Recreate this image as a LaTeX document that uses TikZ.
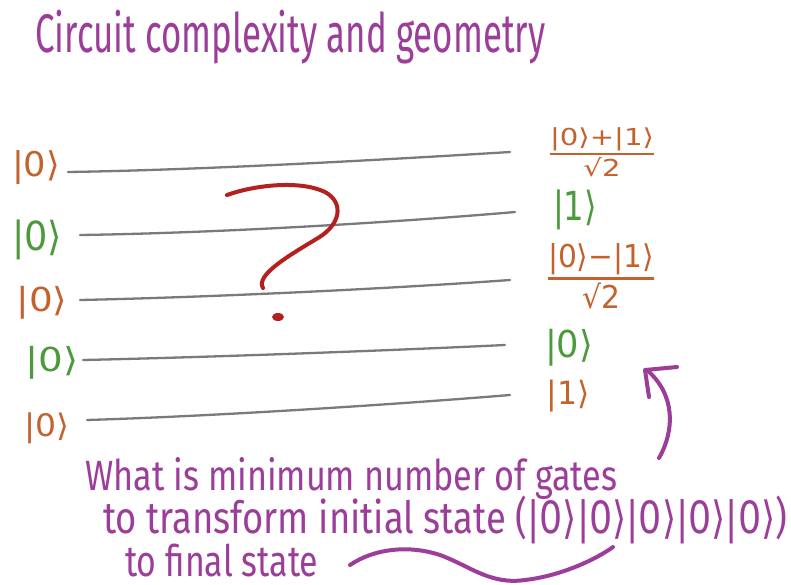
\documentclass[tikz,border=0pt]{standalone}
\usepackage{fontspec}
\usepackage{amsmath}
\setmainfont{Fira Sans}
\newfontfamily\ketfont{DejaVu Sans}
\usepackage{graphicx}
\definecolor{ink}{HTML}{9C3D9A}
\definecolor{orng}{HTML}{C4622D}
\definecolor{grn}{HTML}{4C9A3C}
\definecolor{qred}{HTML}{B3201E}
\definecolor{wire}{HTML}{7A7A7A}
\newcommand{\kt}[1]{\hbox{\ketfont |#1⟩}}
\newcommand{\kfrac}[1]{\genfrac{}{}{0.9pt}{}{\hbox{\ketfont |0⟩#1|1⟩}}{\hbox{\ketfont √2}}}
\begin{document}
\begin{tikzpicture}[x=1pt,y=-1pt,
  wireline/.style={draw=wire,line width=2.3pt,line cap=round},
  pen/.style={draw=ink,line width=4pt,line cap=round,line join=round},
  qpen/.style={draw=qred,line width=4pt,line cap=round},
  ketO/.style={text=orng,inner sep=0pt},
  ketG/.style={text=grn,inner sep=0pt},
  words/.style={text=ink,inner sep=0pt}]
\useasboundingbox (0,0) rectangle (791,585);
\fill[white] (0,0) rectangle (791,585);

% title
\node[words,anchor=base west] (title) at (35,53)
  {\resizebox*{510pt}{54pt}{Circuit complexity and geometry}};

% left kets
\node[ketO] (l1) at (36,168) {\resizebox*{48pt}{34pt}{\kt{0}}};
\node[ketG] (l2) at (37,240) {\resizebox*{50pt}{40pt}{\kt{0}}};
\node[ketO] (l3) at (42,303) {\resizebox*{51pt}{33pt}{\kt{0}}};
\node[ketG] (l4) at (52,363) {\resizebox*{53pt}{33pt}{\kt{0}}};
\node[ketO] (l5) at (47,428) {\resizebox*{45pt}{31pt}{\kt{0}}};

% right kets
\node[ketO] (r1) at (602,152) {\resizebox*{111pt}{49pt}{$\kfrac{+}$}};
\node[ketG] (r2) at (575,210) {\resizebox*{44pt}{40pt}{\kt{1}}};
\node[ketO] (r3) at (601,276) {\resizebox*{113pt}{66pt}{$\kfrac{−}$}};
\node[ketG] (r4) at (569,348) {\resizebox*{48pt}{37pt}{\kt{0}}};
\node[ketO] (r5) at (568,396) {\resizebox*{43pt}{32pt}{\kt{1}}};

% wires
\coordinate (w1s) at (68,172);  \coordinate (w1e) at (510,152);
\coordinate (w2s) at (80,235);  \coordinate (w2e) at (515,212);
\coordinate (w3s) at (80,300);  \coordinate (w3e) at (510,280);
\coordinate (w4s) at (83,360);  \coordinate (w4e) at (505,345);
\coordinate (w5s) at (87,420);  \coordinate (w5e) at (510,395);
\draw[wireline] (w1s) .. controls (200,170) and (380,160) .. (w1e);
\draw[wireline] (w2s) .. controls (220,233) and (400,222) .. (w2e);
\draw[wireline] (w3s) .. controls (220,297) and (400,288) .. (w3e);
\draw[wireline] (w4s) .. controls (220,357) and (400,350) .. (w4e);
\draw[wireline] (w5s) .. controls (220,416) and (400,404) .. (w5e);

% question mark
\draw[qpen] (227,195) .. controls (255,185) and (300,180) .. (325,192)
  .. controls (345,203) and (340,225) .. (318,238)
  .. controls (290,255) and (255,275) .. (263,288);
\fill[qred] (278,317) ellipse (6 and 4);

% question text
\node[words,anchor=base west] (q1) at (85,490)
  {\resizebox*{532pt}{42pt}{What is minimum number of gates}};
\node[words,anchor=base west] (q2) at (103,533)
  {\resizebox*{684pt}{48pt}{to transform initial state (\kt{0}\kt{0}\kt{0}\kt{0}\kt{0})}};
\node[words,anchor=base west] (q3) at (125,576)
  {\resizebox*{193pt}{33pt}{to final state}};

% wave under the state
\coordinate (v0) at (350,565);
\coordinate (v1) at (613,547);
\draw[pen] (v0) .. controls (375,548) and (410,545) .. (440,555)
  .. controls (470,566) and (490,585) .. (525,580)
  .. controls (560,576) and (595,560) .. (v1);

% arrow
\coordinate (a0) at (659,458);
\coordinate (a1) at (648,371);
\draw[pen] (a0) .. controls (675,430) and (675,395) .. (a1);
\draw[pen] (677,367) -- (645,370) -- (649,397);
\end{tikzpicture}
\end{document}
